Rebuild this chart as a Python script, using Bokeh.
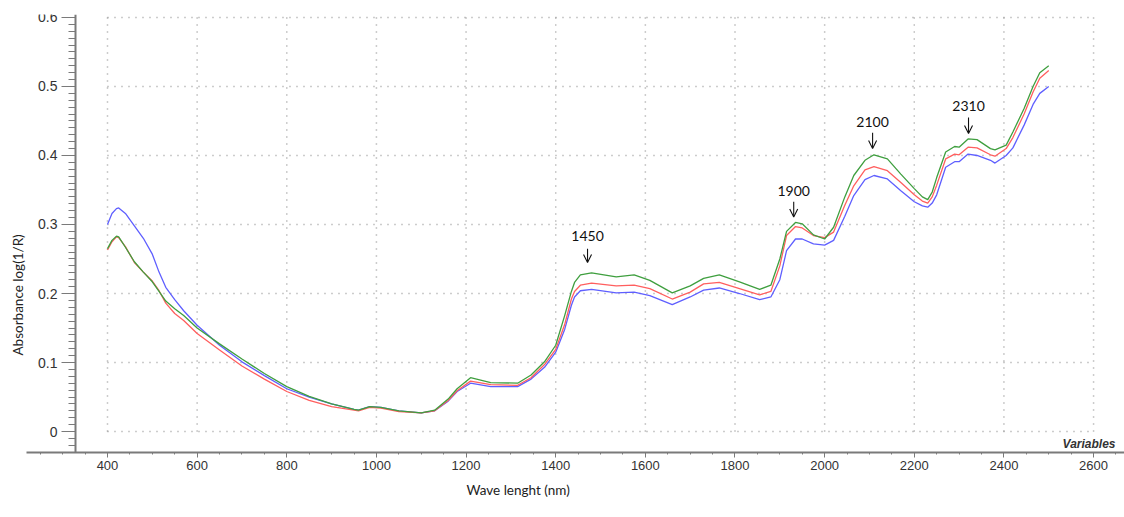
from bokeh.plotting import figure
from bokeh.models import (Range1d, FixedTicker, Title, Label, Arrow, OpenHead,
                          ColumnDataSource)
from bokeh.core.properties import value
from bokeh.embed import file_html
from bokeh.resources import INLINE

# ---------------- data ----------------
wavelength = [400, 410, 420, 425, 440, 460, 480, 500, 515, 530, 550, 570, 600, 650, 700, 750,
              800, 850, 900, 950, 960, 985, 1010, 1050, 1100, 1130, 1160, 1180, 1210,
              1255, 1315, 1345, 1375, 1400, 1420, 1435, 1442, 1455, 1480, 1535, 1575, 1610,
              1660, 1700, 1730, 1765, 1810, 1855, 1880, 1900, 1915, 1935, 1950, 1975,
              2000, 2020, 2045, 2065, 2090, 2110, 2140, 2170, 2200, 2218, 2230, 2240, 2250, 2270,
              2290, 2300, 2320, 2340, 2370, 2380, 2405, 2420, 2445, 2465, 2480, 2500]

blue = [0.300, 0.316, 0.323, 0.324, 0.316, 0.298, 0.280, 0.257, 0.231, 0.209, 0.191, 0.175, 0.154,
        0.125, 0.101, 0.081, 0.062, 0.050, 0.040, 0.032, 0.031, 0.036, 0.035, 0.030,
        0.027, 0.030, 0.044, 0.058, 0.070, 0.065, 0.065, 0.076, 0.093, 0.115, 0.148,
        0.183, 0.195, 0.204, 0.206, 0.201, 0.202, 0.197, 0.184, 0.195, 0.205, 0.208, 0.200,
        0.191, 0.195, 0.220, 0.262, 0.279, 0.279, 0.272, 0.270, 0.277, 0.312, 0.342,
        0.365, 0.371, 0.366, 0.349, 0.333, 0.327, 0.325, 0.331, 0.343, 0.383, 0.391, 0.391, 0.402,
        0.400, 0.393, 0.389, 0.400, 0.411, 0.444, 0.474, 0.490, 0.500]

red = [0.263, 0.275, 0.282, 0.281, 0.268, 0.245, 0.231, 0.218, 0.204, 0.186, 0.171, 0.161, 0.142,
       0.118, 0.095, 0.076, 0.058, 0.045, 0.036, 0.031, 0.030, 0.035, 0.034, 0.029,
       0.027, 0.030, 0.045, 0.059, 0.073, 0.068, 0.067, 0.078, 0.097, 0.119, 0.155,
       0.192, 0.203, 0.212, 0.215, 0.211, 0.212, 0.207, 0.192, 0.202, 0.214, 0.216, 0.207,
       0.198, 0.203, 0.240, 0.284, 0.297, 0.295, 0.284, 0.281, 0.289, 0.328, 0.356,
       0.379, 0.384, 0.378, 0.361, 0.343, 0.334, 0.331, 0.340, 0.357, 0.395, 0.402, 0.401, 0.412,
       0.411, 0.401, 0.399, 0.410, 0.426, 0.460, 0.492, 0.512, 0.523]

green = [0.265, 0.277, 0.283, 0.282, 0.267, 0.246, 0.231, 0.217, 0.203, 0.189, 0.178, 0.168, 0.150,
         0.127, 0.105, 0.084, 0.065, 0.051, 0.040, 0.032, 0.031, 0.036, 0.035, 0.030,
         0.027, 0.031, 0.047, 0.062, 0.078, 0.071, 0.070, 0.082, 0.101, 0.125, 0.168,
         0.203, 0.216, 0.227, 0.230, 0.224, 0.227, 0.219, 0.201, 0.211, 0.222, 0.227, 0.217,
         0.206, 0.212, 0.250, 0.290, 0.303, 0.301, 0.285, 0.279, 0.296, 0.340, 0.371,
         0.393, 0.401, 0.395, 0.373, 0.352, 0.340, 0.336, 0.347, 0.368, 0.405, 0.413, 0.412, 0.424,
         0.423, 0.410, 0.408, 0.415, 0.434, 0.468, 0.500, 0.520, 0.530]

x_ticks = [400, 600, 800, 1000, 1200, 1400, 1600, 1800, 2000, 2200, 2400, 2600]
y_ticks = [0, 0.1, 0.2, 0.3, 0.4, 0.5, 0.6]
x_minor = list(range(250, 2651, 50))
y_minor = [round(i * 0.01, 2) for i in range(-3, 61)]

peak_labels = ["1450", "1900", "2100", "2310"]
peak_x = [1471, 1931, 2107, 2321]
peak_label_y = [0.283, 0.348, 0.448, 0.471]
arrow_top = [0.265, 0.333, 0.433, 0.455]
arrow_bottom = [0.245, 0.311, 0.410, 0.432]

x_label = "Wave lenght (nm)"
y_label = "Absorbance log(1/R)"
corner_label = "Variables"

# ---------------- figure ----------------
p = figure(width=1124, height=517,
           x_range=Range1d(219.3, 2669.0), y_range=Range1d(-0.0304, 0.6043),
           output_backend="svg", toolbar_location=None,
           min_border_left=26, min_border_right=0, min_border_top=14,
           min_border_bottom=65)
p.outline_line_color = None
p.background_fill_color = "white"
p.border_fill_color = "white"
p.xgrid.visible = False
p.ygrid.visible = False

# dotted grid box drawn from tick values
grid_kw = dict(line_color="#9a9a9a", line_width=1.5, line_dash="1 6", level="underlay")
p.segment(x0=x_ticks, x1=x_ticks, y0=[y_ticks[0]] * len(x_ticks),
          y1=[y_ticks[-1]] * len(x_ticks), **grid_kw)
p.segment(x0=[x_ticks[0]] * len(y_ticks), x1=[x_ticks[-1]] * len(y_ticks),
          y0=y_ticks, y1=y_ticks, **grid_kw)

# axes
ax_col = "#7a7a7a"
xa = p.xaxis[0]
xa.ticker = FixedTicker(ticks=x_ticks, minor_ticks=x_minor)
xa.axis_line_color = ax_col
xa.axis_line_width = 2
xa.major_tick_line_color = ax_col
xa.minor_tick_line_color = ax_col
xa.major_tick_in = 0
xa.major_tick_out = 5
xa.minor_tick_in = 0
xa.minor_tick_out = 2
xa.major_label_standoff = 3
xa.major_label_text_font = "Liberation Sans"
xa.major_label_text_font_size = "13px"
xa.major_label_text_color = "#333333"

ya = p.yaxis[0]
ya.fixed_location = 328.6
ya.ticker = FixedTicker(ticks=y_ticks, minor_ticks=y_minor)
ya.axis_line_color = ax_col
ya.axis_line_width = 2
ya.major_tick_line_color = ax_col
ya.minor_tick_line_color = ax_col
ya.major_tick_in = 0
ya.major_tick_out = 14
ya.minor_tick_in = 0
ya.minor_tick_out = 7
ya.major_label_standoff = 4
ya.major_label_text_font = "Liberation Sans"
ya.major_label_text_font_size = "14px"
ya.major_label_text_color = "#333333"

# axis titles
p.add_layout(Title(text=x_label, align="left", offset=440, standoff=15,
                   text_font="Lato", text_font_style="normal",
                   text_font_size="13.5px", text_color="#222222"), "below")
p.add_layout(Title(text=y_label, align="left", offset=97, standoff=2,
                   text_font="Lato", text_font_style="normal",
                   text_font_size="13.5px", text_color="#222222"), "left")

p.add_layout(Label(x=2649, y=-0.0188, text=corner_label, text_align="right",
                   text_baseline="middle", text_font="Liberation Sans",
                   text_font_style="bold italic", text_font_size="12px",
                   text_color="#333333"))

# spectra
p.line(wavelength, blue, line_color="#5f5fff", line_width=1.3)
p.line(wavelength, red, line_color="#ff5f5f", line_width=1.3)
p.line(wavelength, green, line_color="#3f9f3f", line_width=1.3)

# peak annotations
src = ColumnDataSource(dict(x=peak_x, ly=peak_label_y, y0=arrow_top, y1=arrow_bottom,
                            t=peak_labels))
p.text(x="x", y="ly", text="t", source=src, text_align="center",
       text_baseline="middle", text_font=value("Lato"), text_font_size="14px",
       text_color="#111111")
p.add_layout(Arrow(end=OpenHead(size=8, line_width=1.1, line_color="#111111"),
                   x_start="x", y_start="y0", x_end="x", y_end="y1", source=src,
                   line_width=1.1, line_color="#111111"))

open("out.html", "w").write(file_html(p, INLINE))
